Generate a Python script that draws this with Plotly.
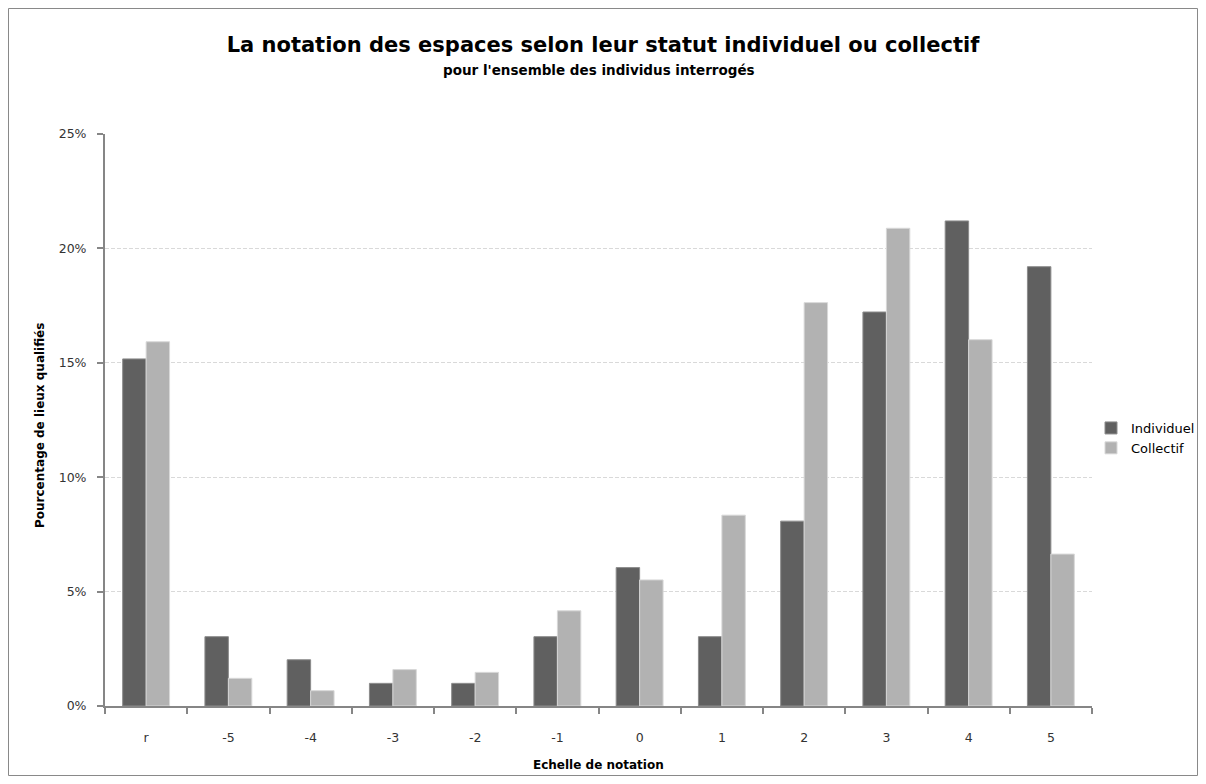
import plotly.graph_objects as go

categories = ["r", "-5", "-4", "-3", "-2", "-1", "0", "1", "2", "3", "4", "5"]
individuel = [15.17, 3.03, 2.02, 0.99, 0.99, 3.03, 6.05, 3.03, 8.08, 17.22, 21.20, 19.20]
collectif = [15.92, 1.21, 0.67, 1.59, 1.47, 4.16, 5.51, 8.34, 17.63, 20.88, 16.01, 6.64]
y_ticks = [0, 5, 10, 15, 20, 25]
y_tick_labels = ["0%", "5%", "10%", "15%", "20%", "25%"]

FONT = "DejaVu Sans"
W, H = 1190, 768
ML, MR, MT, MB = 97, 106, 126, 70
PW = W - ML - MR
PH = H - MT - MB

fig = go.Figure()
fig.add_trace(go.Bar(
    x=categories, y=individuel, name="Individuel",
    marker=dict(color="#606060", line=dict(color="#8c8c8c", width=1)),
))
fig.add_trace(go.Bar(
    x=categories, y=collectif, name="Collectif",
    marker=dict(color="#b2b2b2", line=dict(color="#d8d8d8", width=1)),
))

fig.update_layout(
    width=W, height=H,
    margin=dict(l=ML, r=MR, t=MT, b=MB, autoexpand=False),
    paper_bgcolor="white", plot_bgcolor="white",
    barmode="group", bargap=0.43, bargroupgap=0,
    font=dict(family=FONT, size=12, color="#404040"),
    title=dict(
        text="<b>La notation des espaces selon leur statut individuel ou collectif</b>",
        x=0.5, xref="container", xanchor="center",
        y=1 - 37 / H, yref="container", yanchor="middle",
        font=dict(family=FONT, size=21, color="#000000"),
    ),
    legend=dict(
        xref="container", yref="container",
        x=1083 / W, xanchor="left", y=338 / H, yanchor="middle",
        font=dict(family=FONT, size=13, color="#000000"),
        bgcolor="rgba(0,0,0,0)",
    ),
    showlegend=True,
    annotations=[
        dict(text="<b>pour l'ensemble des individus interrogés</b>",
             xref="paper", yref="paper", x=0.5, y=(PH + MT - 62) / PH,
             xanchor="center", yanchor="middle", showarrow=False,
             font=dict(family=FONT, size=13.5, color="#000000")),
        dict(text="<b>Echelle de notation</b>",
             xref="paper", yref="paper", x=0.5, y=(PH + MT - 757) / PH,
             xanchor="center", yanchor="middle", showarrow=False,
             font=dict(family=FONT, size=12, color="#000000")),
        dict(text="<b>Pourcentage de lieux qualifiés</b>", textangle=-90,
             xref="paper", yref="paper", x=(32 - ML) / PW, y=(PH + MT - 418) / PH,
             xanchor="center", yanchor="middle", showarrow=False,
             font=dict(family=FONT, size=12, color="#000000")),
    ],
)

fig.update_xaxes(
    type="category",
    showline=True, linecolor="#868686", linewidth=2,
    ticks="outside", ticklen=6, tickcolor="#868686", tickwidth=1.5,
    tickson="boundaries",
    ticklabelstandoff=19,
    showgrid=False,
    tickfont=dict(family=FONT, size=12.5, color="#333333"),
)
fig.update_yaxes(
    range=[0, 25],
    tickvals=y_ticks, ticktext=y_tick_labels,
    showline=True, linecolor="#868686", linewidth=2,
    ticks="outside", ticklen=6, tickcolor="#868686", tickwidth=1.5,
    ticklabelstandoff=8,
    showgrid=True, gridcolor="#d9d9d9", griddash="4px,2px", gridwidth=1,
    zeroline=False,
    tickfont=dict(family=FONT, size=12.5, color="#333333"),
)

fig.add_shape(
    type="rect", xref="paper", yref="paper",
    x0=(0.5 - ML) / PW, x1=(W - 0.5 - ML) / PW,
    y0=-(MB - 0.5) / PH, y1=(PH + MT - 0.5) / PH,
    line=dict(color="#898989", width=1), fillcolor="rgba(0,0,0,0)", layer="below",
)

fig.write_html("out.html")
